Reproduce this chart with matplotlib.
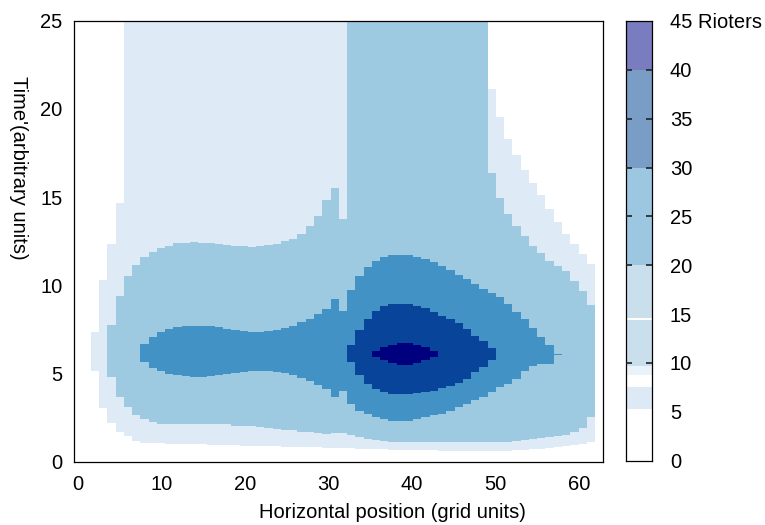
import numpy as np
import matplotlib
matplotlib.use("Agg")
import matplotlib.pyplot as plt

plt.rcParams['font.family'] = ['Liberation Sans', 'DejaVu Sans']

# ---------------- data ----------------
n_cols = 64                      # grid columns of the simulation
x_min, x_max = -0.48, 62.9       # horizontal extent covered by the grid
y_top = 25.0

x_ticks = [0, 10, 20, 30, 40, 50, 60]
y_ticks = [0, 5, 10, 15, 20, 25]
cbar_ticks = [0, 5, 10, 15, 20, 25, 30, 35, 40, 45]
cbar_ticklabels = ['0', '5', '10', '15', '20', '25', '30', '35', '40', '45 Rioters']

# level 1 (very light): first column 2
lvl1_start = 2
lvl1_lo = [5.14, 3.06, 2.2, 1.69, 1.42, 1.15, 1.07, 1.05, 1.03, 1.0, 1.0, 1.0,
           0.98, 0.97, 0.95, 0.94, 0.93, 0.92, 0.9, 0.89, 0.88, 0.87, 0.86, 0.85,
           0.84, 0.82, 0.81, 0.8, 0.79, 0.77, 0.76, 0.74, 0.73, 0.71, 0.7, 0.69,
           0.68, 0.67, 0.66, 0.65, 0.64, 0.63, 0.62, 0.62, 0.61, 0.61, 0.6, 0.6,
           0.6, 0.61, 0.62, 0.64, 0.66, 0.69, 0.72, 0.76, 0.81, 0.87, 0.94, 1.02, 1.12]
lvl1_hi = [7.33, 10.3, 12.32, 14.67] + [25.0] * 44 + \
          [21.13, 19.52, 18.29, 17.4, 16.54, 15.78, 15.12, 14.3, 13.57, 12.91,
           12.34, 11.77, 11.2]

# level 2 (light): first column 4
lvl2_start = 4
lvl2_lo = [4.78, 3.68, 3.08, 2.66, 2.42, 2.23, 2.14, 2.1, 2.1, 2.1, 2.12, 2.14,
           2.14, 2.14, 2.1, 2.04, 2.04, 2.04, 1.98, 1.91, 1.85, 1.8, 1.76, 1.7,
           1.66, 1.6, 1.57, 1.6, 1.62, 1.5, 1.38, 1.28, 1.2, 1.15, 1.12,
           1.1, 1.1, 1.1, 1.1, 1.1, 1.1, 1.1, 1.1, 1.1, 1.1, 1.1, 1.1, 1.1, 1.1,
           1.15, 1.22, 1.29, 1.33, 1.38, 1.45, 1.52, 1.66, 1.9, 2.5]
lvl2_hi = [7.75, 9.41, 10.51, 11.17, 11.58, 11.87, 12.09, 12.24, 12.38, 12.41,
           12.47, 12.4, 12.38, 12.34, 12.28, 12.24, 12.21, 12.17, 12.24, 12.28,
           12.34, 12.49, 12.62, 12.91, 13.34, 13.91, 14.83, 15.51, 13.76] + \
          [25.0] * 17 + \
          [16.34, 14.95, 14.04, 13.36, 12.79, 12.24, 11.81, 11.39, 11.1, 10.83,
           10.26, 9.69, 8.9]

# level 3 (medium): first column 8
lvl3_start = 8
lvl3_lo = [5.63, 5.31, 5.12, 4.98, 4.9, 4.84, 4.82, 4.82, 4.84, 4.88, 4.95, 5.02,
           5.08, 5.12, 5.14, 5.14, 5.1, 5.03, 4.9, 4.72, 4.55, 4.35, 4.1, 3.65,
           4.02, 3.27, 2.89, 2.7, 2.51, 2.42, 2.32, 2.32, 2.32, 2.42, 2.51, 2.61,
           2.7, 2.89, 3.08, 3.27, 3.46, 3.65, 3.93, 4.21, 4.4, 4.69, 5.16, 5.44,
           5.54, 5.54, 6.03]
lvl3_hi = [6.67, 7.05, 7.33, 7.52, 7.65, 7.71, 7.71, 7.71, 7.68, 7.61, 7.52, 7.45,
           7.4, 7.37, 7.37, 7.4, 7.47, 7.56, 7.71, 7.9, 8.1, 8.35, 8.65, 9.22,
           8.56, 9.73, 10.54, 11.05, 11.36, 11.62, 11.72, 11.72, 11.72, 11.62,
           11.49, 11.3, 11.11, 10.87, 10.6, 10.36, 10.07, 9.79, 9.54, 9.31, 8.94,
           8.46, 8.09, 7.58, 7.05, 6.58, 6.08]

# level 4 (dark): first column 33
lvl4_start = 33
lvl4_lo = [5.63, 4.88, 4.40, 4.12, 3.93, 3.84, 3.84, 3.84, 3.86, 3.93, 4.02, 4.18,
           4.31, 4.44, 4.69, 5.06, 5.35, 5.73]
lvl4_hi = [6.58, 7.48, 8.09, 8.56, 8.84, 8.94, 8.94, 8.94, 8.84, 8.71, 8.46, 8.28,
           8.09, 7.84, 7.52, 7.14, 6.82, 6.42]

# level 5 (darkest): first column 36
lvl5_start = 36
lvl5_lo = [5.95, 5.73, 5.57, 5.50, 5.50, 5.57, 5.73, 5.95]
lvl5_hi = [6.24, 6.48, 6.63, 6.71, 6.71, 6.63, 6.48, 6.24]

# colour-bar bands (value edges) as drawn in the reference
cbar_edges = [0, 5.3, 7.5, 8.8, 9.7, 14.4, 14.6, 20, 30, 40, 45]
cbar_marks = [10, 20, 25, 30, 35, 40]

# ---------------- styles ----------------
level_colors = ['#deebf7', '#9ecae1', '#4292c6', '#08459a', '#00007f']
cbar_colors = ['#ffffff', '#dde9f5', '#ffffff', '#eaf2fa', '#c9dfec', '#ffffff',
               '#c9dfec', '#9dc6e0', '#7a9dc6', '#7a7cc0']
FS = 14.5

fig = plt.figure(figsize=(7.65, 5.25), dpi=100)
ax = fig.add_axes([74.3 / 765, 1 - 461.5 / 525, (603.3 - 74.3) / 765, (461.5 - 20.7) / 525])
cax = fig.add_axes([625.7 / 765, 1 - 460.5 / 525, (652.3 - 625.7) / 765, (460.5 - 21.0) / 525])

w = (x_max - x_min) / n_cols
levels = [(lvl1_start, lvl1_lo, lvl1_hi), (lvl2_start, lvl2_lo, lvl2_hi),
          (lvl3_start, lvl3_lo, lvl3_hi), (lvl4_start, lvl4_lo, lvl4_hi),
          (lvl5_start, lvl5_lo, lvl5_hi)]
for (start, lo, hi), col in zip(levels, level_colors):
    lo = np.asarray(lo, float)
    hi = np.asarray(hi, float)
    cols = start + np.arange(len(lo))
    ax.bar(x_min + cols * w, hi - lo, bottom=lo, width=w, align='edge',
           color=col, linewidth=0, antialiased=False)

ax.set_xlim(x_min, x_max)
ax.set_ylim(0, y_top)
ax.set_xticks(x_ticks)
ax.set_yticks(y_ticks)
ax.tick_params(axis='both', length=0, labelsize=FS)
ax.tick_params(axis='x', pad=10)
ax.tick_params(axis='y', pad=8.5)
for s in ax.spines.values():
    s.set_linewidth(0.9)
    s.set_color('black')

fig.text(392 / 765, 1 - 512 / 525, 'Horizontal position (grid units)',
         ha='center', va='center', fontsize=FS)
fig.text(18 / 765, 1 - 168 / 525, "Time'(arbitrary units)", rotation=270,
         ha='center', va='center', fontsize=FS)

# colour bar
edges = np.asarray(cbar_edges, float)
cax.bar(np.zeros(len(edges) - 1), np.diff(edges), bottom=edges[:-1], width=1,
        align='edge', color=cbar_colors, linewidth=0, antialiased=False, zorder=0)
cax.set_xlim(0, 1)
cax.set_ylim(0, 45)
cax.set_xticks([])
cax.set_yticks(cbar_ticks)
cax.set_yticklabels(cbar_ticklabels)
cax.tick_params(axis='y', length=0, labelsize=FS, pad=12.7,
                left=False, right=False, labelleft=False, labelright=True)
# short inward tick dashes on both edges of the colour bar
for v in cbar_marks:
    cax.plot([0, 0.22], [v, v], color='#222222', lw=1.2, zorder=3,
             solid_capstyle='butt')
    cax.plot([0.78, 1], [v, v], color='#222222', lw=1.2, zorder=3,
             solid_capstyle='butt')
for s in cax.spines.values():
    s.set_linewidth(0.9)
    s.set_color('black')

fig.savefig('out.png', dpi=100)
